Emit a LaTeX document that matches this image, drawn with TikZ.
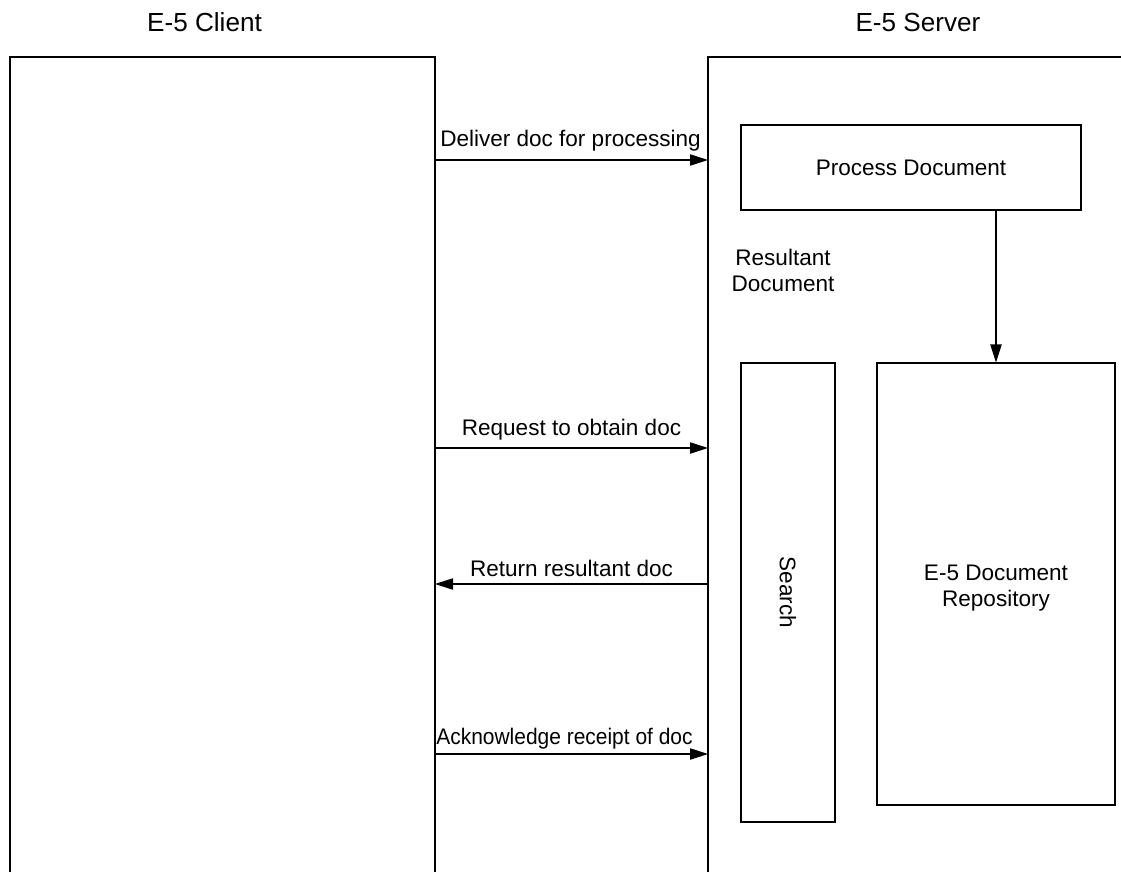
\documentclass[tikz,border=0pt]{standalone}
\usepackage{fontspec}
\setmainfont{Liberation Sans}
\usetikzlibrary{arrows.meta,fit}

\tikzset{
  frame/.style={draw=black, line width=0.8pt},
  box/.style={draw=black, line width=0.8pt, inner sep=0pt, fit={#1}},
  lbl/.style={font=\fontsize{16.9}{19.5}\selectfont, inner sep=0pt, align=center},
  title/.style={font=\fontsize{19.6}{22}\selectfont, inner sep=0pt},
  arr/.style={line width=0.8pt, -{Triangle[length=13.5pt,width=8.5pt]}}
}

\begin{document}
\begin{tikzpicture}[x=0.75pt, y=-0.75pt]
\useasboundingbox (0,0) rectangle (1121,872);

% participant titles
\node[title, anchor=base] (tc) at (204.5,31.7) {E-5 Client};
\node[title, anchor=base] (ts) at (918,31.7) {E-5 Server};

% client and server frames, open towards the page edges
\draw[frame] (10,872) -- (10,57) -- (435,57) -- (435,872);
\draw[frame] (708,872) -- (708,57) -- (1121,57);

% server components
\node[box={(741,125)(1081,210)}] (proc) {};
\node[lbl] at (proc.center) {Process Document};
\node[box={(741,363)(835,822)}] (search) {};
\node[lbl, rotate=-90] at (search.center) {Search};
\node[box={(877,363)(1115,805)}] (repo) {};
\node[lbl] at ([yshift=-3pt]repo.center) {E-5 Document\\Repository};
\node[lbl, anchor=base] (res) at (783,291.7) {Resultant\\Document};

\draw[arr] (proc.south -| repo.north) -- (repo.north);

% message end points on the client and server frames
\coordinate (c1) at (435,160);   \coordinate (s1) at (708,160);
\coordinate (c2) at (435,448);   \coordinate (s2) at (708,448);
\coordinate (c3) at (435,584);   \coordinate (s3) at (708,584);
\coordinate (c4) at (435,754);   \coordinate (s4) at (708,754);

% messages
\draw[arr] (c1) -- (s1);
\draw[arr] (c2) -- (s2);
\draw[arr] (s3) -- (c3);
\draw[arr] (c4) -- (s4);

\node[lbl, anchor=base] (m1) at (570.5,146.7) {Deliver doc for processing};
\node[lbl, anchor=base] (m2) at (571.5,435) {Request to obtain doc};
\node[lbl, anchor=base] (m3) at (571.5,576) {Return resultant doc};
\node[lbl, anchor=base] (m4) at (564.5,744) {\scalebox{0.93}[1]{Acknowledge receipt of doc}};
\end{tikzpicture}
\end{document}
